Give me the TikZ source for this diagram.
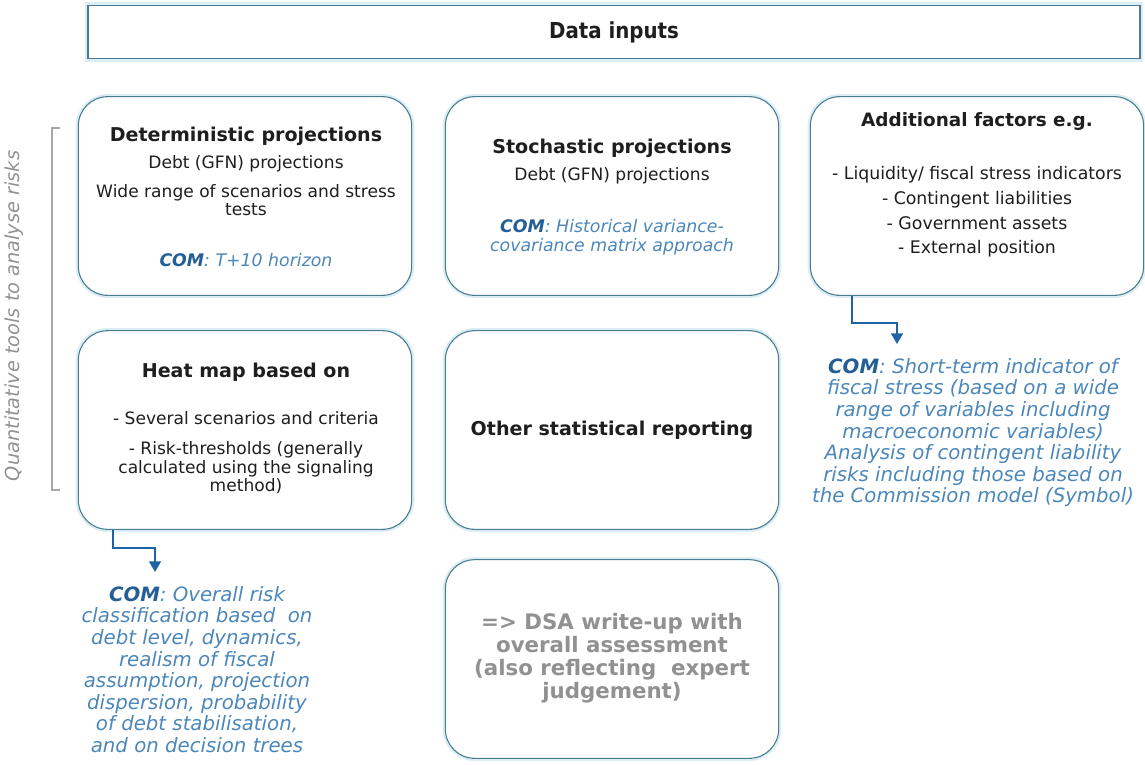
\documentclass[tikz,border=0pt]{standalone}
\usepackage{fontspec}
\setmainfont{DejaVu Sans}
\newfontfamily\condfont{DejaVu Sans Condensed}
\usetikzlibrary{calc,arrows.meta}
\definecolor{boxline}{RGB}{70,125,145}
\definecolor{glow}{RGB}{220,238,244}
\definecolor{comblue}{RGB}{35,95,150}
\definecolor{txtblue}{RGB}{75,135,185}
\definecolor{arrblue}{RGB}{30,100,165}
\definecolor{graytxt}{RGB}{145,145,145}
\definecolor{txtdark}{RGB}{30,30,30}
\newcommand{\COM}{\textcolor{comblue}{\textbf{COM}}}
\begin{document}
\begin{tikzpicture}[x=0.75pt,y=-0.75pt,
  box/.style={draw=boxline, line width=0.8pt, rounded corners=22pt, minimum width=250pt, minimum height=149pt, fill=white, preaction={draw=glow, line width=4pt}},
  headbox/.style={draw=boxline, line width=0.8pt, minimum width=789pt, minimum height=40pt, fill=white, preaction={draw=glow, line width=5pt}},
  ttl/.style={font=\fontsize{14.3}{16}\selectfont\bfseries, text=txtdark, align=center, inner sep=0pt},
  body/.style={font=\fontsize{12.8}{13.8}\selectfont, text=txtdark, align=center, inner sep=0pt},
  bodyw/.style={font=\fontsize{13}{18.5}\selectfont, text=txtdark, align=center, inner sep=0pt},
  incom/.style={font=\fontsize{13}{14.3}\selectfont\itshape, text=txtblue, align=center, inner sep=0pt},
  outcom/.style={font=\fontsize{14.8}{16.2}\selectfont\itshape, text=txtblue, align=center, inner sep=0pt},
  dsa/.style={font=\fontsize{16}{17.3}\selectfont\bfseries, text=graytxt, align=center, inner sep=0pt},
  arr/.style={draw=arrblue, line width=1.1pt, -{Triangle[length=8pt,width=9pt]}},
  brk/.style={draw=graytxt!80, line width=0.8pt}
]
\useasboundingbox (0,0) rectangle (1145,764);

% header
\node[headbox] (head) at (614,32) {};
\node[font=\condfont\fontsize{16.5}{18}\selectfont\bfseries, text=txtdark] (headtxt) at (614,32) {Data inputs};

% boxes
\node[box] (det) at (245,196) {};
\node[box] (sto) at (612,196) {};
\node[box] (add) at (977,196) {};
\node[box] (heat) at (245,430) {};
\node[box] (oth) at (612,430) {};
\node[box] (dsabox) at (612,659) {};

% deterministic
\node[ttl] (detT) at (246,136) {Deterministic projections};
\node[body] (detA) at (246,164) {Debt (GFN) projections};
\node[body] (detB) at (246,200) {Wide range of scenarios and stress\\tests};
\node[incom] (detC) at (246,260) {\COM: T+10 horizon};

% stochastic
\node[ttl] (stoT) at (612,148) {Stochastic projections};
\node[body] (stoA) at (612,176) {Debt (GFN) projections};
\node[incom] (stoC) at (612,237) {\COM: Historical variance-\\covariance matrix approach};

% additional
\node[ttl, font=\fontsize{13.8}{16}\selectfont\bfseries] (addT) at (977,121) {Additional factors e.g.};
\node[bodyw] (addA) at (977,212) {- Liquidity/ fiscal stress indicators\\- Contingent liabilities\\- Government assets\\- External position};

% heat map
\node[ttl] (heatT) at (246,372) {Heat map based on};
\node[body] (heatA) at (246,418) {- Several scenarios and criteria};
\node[body] (heatB) at (246,468) {- Risk-thresholds (generally\\calculated using the signaling\\method)};

% other
\node[ttl] (othT) at (612,430) {Other statistical reporting};

% dsa
\node[dsa] (dsaT) at (612,658) {=> DSA write-up with\\overall assessment\\(also reflecting\ \ expert\\judgement)};

% outside COM texts
\node[outcom, anchor=north] (comL) at (197,586) {\COM: Overall risk\\classification based\ \ on\\debt level, dynamics,\\realism of fiscal\\assumption, projection\\dispersion, probability\\of debt stabilisation,\\and on decision trees};
\node[outcom, anchor=north] (comR) at (973,358) {\COM: Short-term indicator of\\fiscal stress (based on a wide\\range of variables including\\macroeconomic variables)\\Analysis of contingent liability\\risks including those based on\\the Commission model (Symbol)};

% connectors
\draw[arr] ($(heat.south west)+(35,0)$) |- ($(comL.north)+(-42,-38)$) -- ($(comL.north)+(-42,-14)$);
\draw[arr] ($(add.south west)+(42,0)$) |- ($(comR.north)+(-76,-35)$) -- ($(comR.north)+(-76,-14)$);

% bracket
\coordinate (bt) at (60,128);
\coordinate (bb) at (60,490);
\draw[brk] (bt) -- ++(-8,0) |- (bb);
\node[rotate=90, font=\fontsize{14.5}{16}\selectfont\itshape, text=graytxt] (qt) at (14,316) {Quantitative tools to analyse risks};
\end{tikzpicture}
\end{document}
